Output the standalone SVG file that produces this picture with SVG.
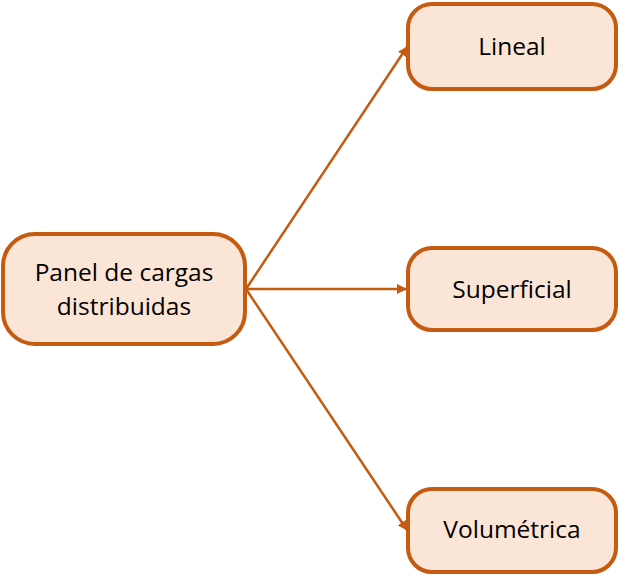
<svg xmlns="http://www.w3.org/2000/svg" width="619" height="575" viewBox="0 0 619 575">
<style>
.box{fill:#FBE5D6;stroke:#C55A11;stroke-width:4}
.lbl{font-family:"Open Sans","Noto Sans",sans-serif;font-size:24.5px;fill:#000;text-anchor:middle}
.edge{stroke:#C55A11;stroke-width:2.5;fill:none;marker-end:url(#arr)}
</style>
<defs>
<marker id="arr" viewBox="0 0 10 10" refX="9" refY="5" markerWidth="4" markerHeight="4" orient="auto" markerUnits="strokeWidth">
<path d="M0,0 L10,5 L0,10 Z" fill="#C55A11"/>
</marker>
</defs>
<g id="connectors">
<line class="edge" x1="246" y1="289" x2="407" y2="47"/>
<line class="edge" x1="246" y1="289" x2="406" y2="289"/>
<line class="edge" x1="246" y1="289" x2="407" y2="530"/>
</g>
<g id="panel">
<rect class="box" x="3" y="234" width="242" height="110" rx="32"/>
<text class="lbl" x="124" y="281">Panel de cargas</text>
<text class="lbl" x="124" y="315">distribuidas</text>
</g>
<g id="lineal">
<rect class="box" x="408" y="4" width="208" height="85" rx="24"/>
<text class="lbl" x="512" y="55">Lineal</text>
</g>
<g id="superficial">
<rect class="box" x="408" y="248" width="208" height="82" rx="24"/>
<text class="lbl" x="512" y="298">Superficial</text>
</g>
<g id="volumetrica">
<rect class="box" x="408" y="489" width="208" height="83" rx="24"/>
<text class="lbl" x="512" y="538">Volumétrica</text>
</g>
</svg>
